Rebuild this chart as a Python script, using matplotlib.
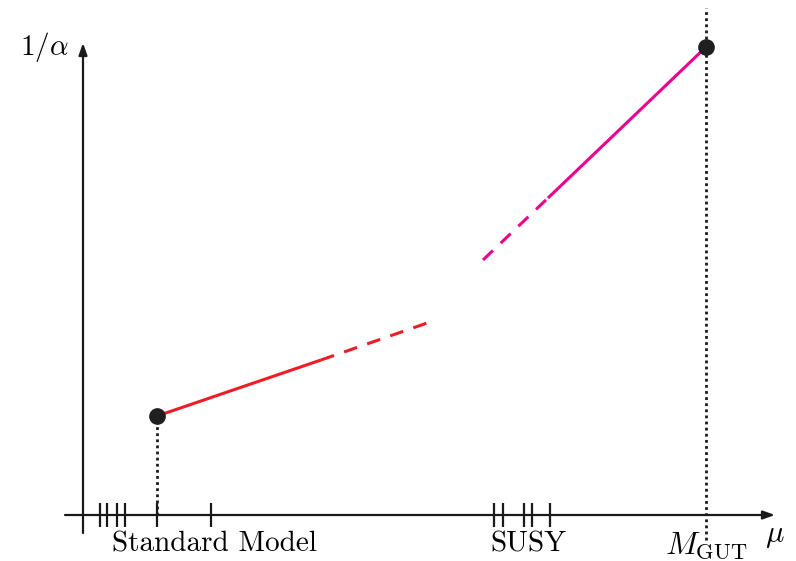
import matplotlib
matplotlib.use("Agg")
import matplotlib.pyplot as plt

plt.rcParams["font.family"] = "serif"
plt.rcParams["font.serif"] = ["cmr10", "DejaVu Serif"]
plt.rcParams["mathtext.fontset"] = "cm"
plt.rcParams["axes.formatter.use_mathtext"] = True

# running of 1/alpha against log(mu), arbitrary units
sm_x = [7.4, 23.8, 34.7]       # start, end of solid, end of dashed
sm_y = [9.9, 15.5, 19.3]
susy_x = [40.0, 46.5, 62.3]    # start of dashed, start of solid, unification
susy_y = [25.5, 31.7, 46.8]

sm_ticks = [1.7, 2.4, 3.4, 4.2, 7.4, 12.8]
susy_ticks = [41.1, 42.0, 44.1, 44.9, 46.7]
m_gut = 62.3

red = "#ee1c25"
magenta = "#ec008c"
dot_color = "#1f1f1f"

fig = plt.figure(figsize=(7.96, 5.61), dpi=100)
ax = fig.add_axes([0, 0, 1, 1])
ax.set_xlim(-8.3, 71.3)
ax.set_ylim(-4.6, 51.5)
ax.axis("off")

# axes with arrow heads
arrow = dict(arrowstyle="-|>,head_length=0.7,head_width=0.25", color="#1a1a1a",
             lw=1.6, shrinkA=0, shrinkB=0)
ax.annotate("", xy=(69.2, 0), xytext=(-1.8, 0), arrowprops=arrow)
ax.annotate("", xy=(0, 47.2), xytext=(0, -1.8), arrowprops=arrow)

# scale ticks on the mu axis
ax.vlines(sm_ticks, -1.2, 1.2, color="#1a1a1a", lw=1.6)
ax.vlines(susy_ticks, -1.2, 1.2, color="#1a1a1a", lw=1.6)

# dotted guides
dotted = (0, (1, 1.2))
ax.plot([sm_x[0], sm_x[0]], [0, sm_y[0]], ls=dotted, color="#1a1a1a", lw=2)
ax.plot([m_gut, m_gut], [-2.5, 50.7], ls=dotted, color="#1a1a1a", lw=2)

# standard model running
ax.plot(sm_x[:2], sm_y[:2], color=red, lw=2.2, solid_capstyle="butt")
ax.plot(sm_x[1:], sm_y[1:], color=red, lw=2.2, ls=(0, (4.5, 3.5)))

# supersymmetric running
ax.plot(susy_x[:2], susy_y[:2], color=magenta, lw=2.2, ls=(0, (4.5, 3.5)))
ax.plot(susy_x[1:], susy_y[1:], color=magenta, lw=2.2, solid_capstyle="butt")

ax.plot([sm_x[0], susy_x[-1]], [sm_y[0], susy_y[-1]], "o", color=dot_color,
        ms=11, zorder=5)

# labels
ax.text(13.2, -1.6, "Standard Model", ha="center", va="top", fontsize=21)
ax.text(44.5, -1.6, "SUSY", ha="center", va="top", fontsize=21)
ax.text(m_gut, -1.5, r"$M_{\mathrm{GUT}}$", ha="center", va="top", fontsize=23)
ax.text(69.2, -0.8, r"$\mu$", ha="center", va="top", fontsize=22)
ax.text(-6.3, 46.8, r"$1/\alpha$", ha="left", va="center", fontsize=21)

fig.savefig("out.png", dpi=100)
